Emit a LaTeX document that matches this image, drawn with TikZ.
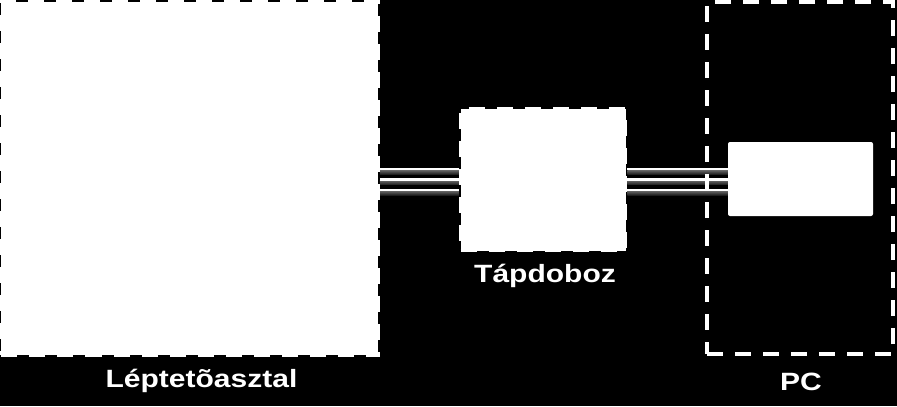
\documentclass[tikz,border=0pt]{standalone}
\usepackage{fontspec}
\usepackage{tikz}
\usetikzlibrary{backgrounds}
\newfontfamily\labfont{Liberation Sans Bold}[FakeStretch=1.2]

\tikzset{
	dbox/.style={rectangle, inner sep=0pt, draw=white, fill=white, line width=3.5bp, dash pattern=on 16bp off 12bp},
	pcbox/.style={rectangle, inner sep=0pt, draw=white, line width=3.5bp, dash pattern=on 16bp off 12bp},
	lab/.style={text=white, inner sep=0pt, anchor=base, font=\labfont\fontsize{25bp}{29bp}\selectfont},
	wireband/.style={top color=black!60, bottom color=black!90},
	wirehi/.style={fill=white},
}

\begin{document}
\begin{tikzpicture}[x=1bp,y=-1bp]
		\useasboundingbox (0,0) rectangle (897,406);
		\begin{pgfonlayer}{background}
		\fill[black] (0,0) rectangle (897,406);
		\end{pgfonlayer}
		%
		\node[dbox, minimum width=376.5bp, minimum height=353.5bp] (tabla) at (189.75,178.25) {};
		\node[dbox, minimum width=165bp, minimum height=142bp] (tap) at (543,179.5) {};
		\node[pcbox, minimum width=186bp, minimum height=352bp] (pc) at (800,178) {};
		\node[rectangle, fill=white, rounded corners=2bp, minimum width=145bp, minimum height=74bp] (pcin) at (800.5,179) {};
		%
		\node[lab] (tablalab) at (201.5,387) {Léptetõasztal};
		\node[lab] (taplab) at (545,282) {Tápdoboz};
		\node[lab] (pclab) at (801,390) {PC};
		%
		\begin{pgfonlayer}{background}
		\foreach \i in {0,1,2}{
			\shade[wireband] ([yshift=8.15bp-\i*10.4bp]tabla.east) rectangle ([yshift=3.85bp-\i*10.4bp]tabla.east -| tap.west);
			\fill[wirehi] ([yshift=10.55bp-\i*10.4bp]tabla.east) rectangle ([yshift=8.15bp-\i*10.4bp]tabla.east -| tap.west);
			\shade[wireband] ([yshift=8.15bp-\i*10.4bp]tabla.east -| tap.east) rectangle ([yshift=3.85bp-\i*10.4bp]tabla.east -| pcin.west);
			\fill[wirehi] ([yshift=10.55bp-\i*10.4bp]tabla.east -| tap.east) rectangle ([yshift=8.15bp-\i*10.4bp]tabla.east -| pcin.west);
		}
		\end{pgfonlayer}
\end{tikzpicture}
\end{document}
